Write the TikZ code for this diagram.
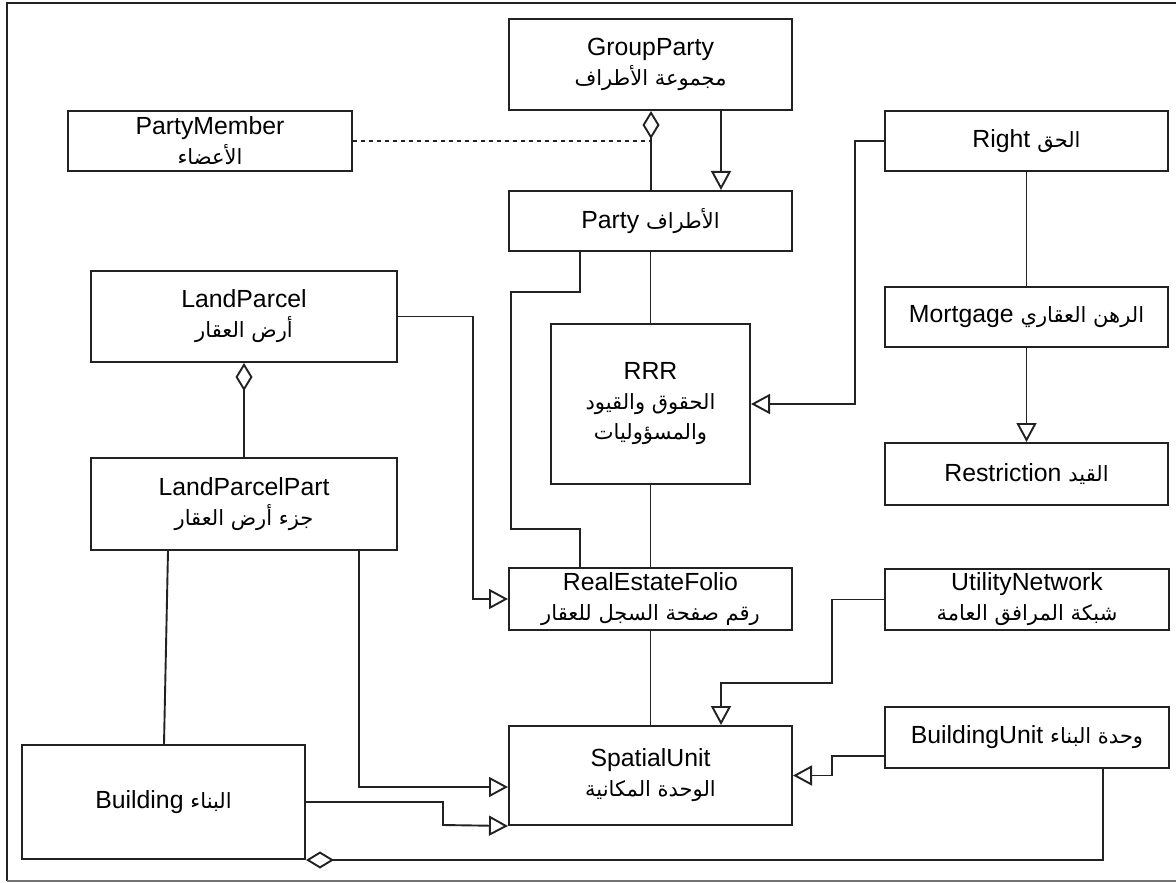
\documentclass[tikz,border=0pt]{standalone}
\usepackage{fontspec}
\setmainfont{Liberation Sans}
\newfontfamily\arfont[Script=Arabic]{DejaVu Sans}
\TeXXeTstate=1
\usetikzlibrary{arrows.meta,fit}
% Arabic run, set right to left
\newcommand\ar[1]{{\arfont\fontsize{10.5}{15}\selectfont\beginR #1\endR}}
% class box from its top-left and bottom-right corners (pixel units),
% with its label set in the middle
\newcommand\umlbox[6]{%
  \coordinate (#1-nw) at (#2,#3);
  \coordinate (#1-se) at (#4,#5);
  \node[classbox, fit=(#1-nw)(#1-se)] (#1) {};
  \node[classlabel] (#1-label) at (#1.center) {#6};}
\definecolor{linec}{HTML}{222222}
\tikzset{
  classbox/.style={draw=linec, line width=1pt, inner sep=0pt, fill=white},
  classlabel/.style={align=center, inner sep=0pt},
  conn/.style={draw=linec, line width=0.95pt},
  gen/.style={conn, -{Triangle[open, length=9.5pt, width=10pt]}},
  agg/.style={conn, {Diamond[open, length=14pt, width=8.5pt]}-},
  dep/.style={conn, line width=0.8pt, dash pattern=on 2pt off 2pt},
}
\begin{document}
\begin{tikzpicture}[x=0.5pt, y=-0.5pt, font=\fontsize{12.4}{15}\selectfont]
\useasboundingbox (0,0) rectangle (1176,882);
% outer frame
\draw[line width=1.1pt, draw=linec] (7,881) -- (7,3) -- (1190,3);
\draw[line width=0.8pt, draw=black!55] (7,881) -- (1190,881);

% classes
\umlbox{gp}{509}{19}{792}{110}{GroupParty\\\ar{مجموعة الأطراف}}
\umlbox{pm}{68}{111}{352}{171}{PartyMember\\\ar{الأعضاء}}
\umlbox{party}{509}{191}{792}{251}{Party \ar{الأطراف}}
\umlbox{right}{885}{111}{1168}{171}{Right \ar{الحق}}
\umlbox{mort}{885}{287}{1168}{347}{Mortgage \ar{الرهن العقاري}}
\umlbox{restr}{885}{443}{1168}{505}{Restriction \ar{القيد}}
\umlbox{lp}{91}{271}{397}{362}{LandParcel\\\ar{أرض العقار}}
\umlbox{lpp}{91}{458}{397}{550}{LandParcelPart\\\ar{جزء أرض العقار}}
\umlbox{rrr}{551}{324}{750}{484}{RRR\\\ar{الحقوق والقيود}\\\ar{والمسؤوليات}}
\umlbox{ref}{509}{568}{792}{630}{RealEstateFolio\\\ar{رقم صفحة السجل للعقار}}
\umlbox{un}{885}{569}{1169}{630}{UtilityNetwork\\\ar{شبكة المرافق العامة}}
\umlbox{su}{509}{726}{792}{825}{SpatialUnit\\\ar{الوحدة المكانية}}
\umlbox{bu}{885}{707}{1169}{768}{BuildingUnit \ar{وحدة البناء}}
\umlbox{bld}{22}{745}{305}{859}{Building \ar{البناء}}

% party side
\coordinate (pmjoin) at (651,141);
\draw[agg] (651,0 |- gp.south) -- (651,0 |- party.north);
\draw[dep] (pm.east) -- (pmjoin);
\draw[gen] (721,0 |- gp.south) -- (721,0 |- party.north);
\draw[conn] (580,0 |- party.south) -- (580,292) -- (511,292) -- (511,529)
  -- (580,529) -- (580,0 |- ref.north);
\draw[conn] (party.south) -- (rrr.north);
\draw[conn] (rrr.south) -- (ref.north);

% rights
\draw[gen] (right.west) -| (855,404) -- (rrr.east);
\draw[conn] (right.south) -- (mort.north);
\draw[gen] (mort.south) -- (restr.north);

% land parcels
\draw[agg] (lp.south) -- (lpp.north);
\draw[gen] (lp.east) -| (473,599) -- (ref.west);
\draw[conn] (168,0 |- lpp.south) -- (164,0 |- bld.north);
\draw[gen] (359,0 |- lpp.south) |- (su.west |- 0,787);

% spatial units
\draw[gen] (bld.east) -- (443,802) -- (443,825) -- (su.south west);
\draw[conn] (ref.south) -- (su.north);
\draw[gen] (un.west) -- (832,599.5) -- (832,683) -- (721,683) -- (721,0 |- su.north);
\draw[gen] (bu.west |- 0,756) -- (832,756) -- (832,775.5) -- (su.east);
\draw[agg] (bld.south east) -| (1103,0 |- bu.south);
\end{tikzpicture}
\end{document}
